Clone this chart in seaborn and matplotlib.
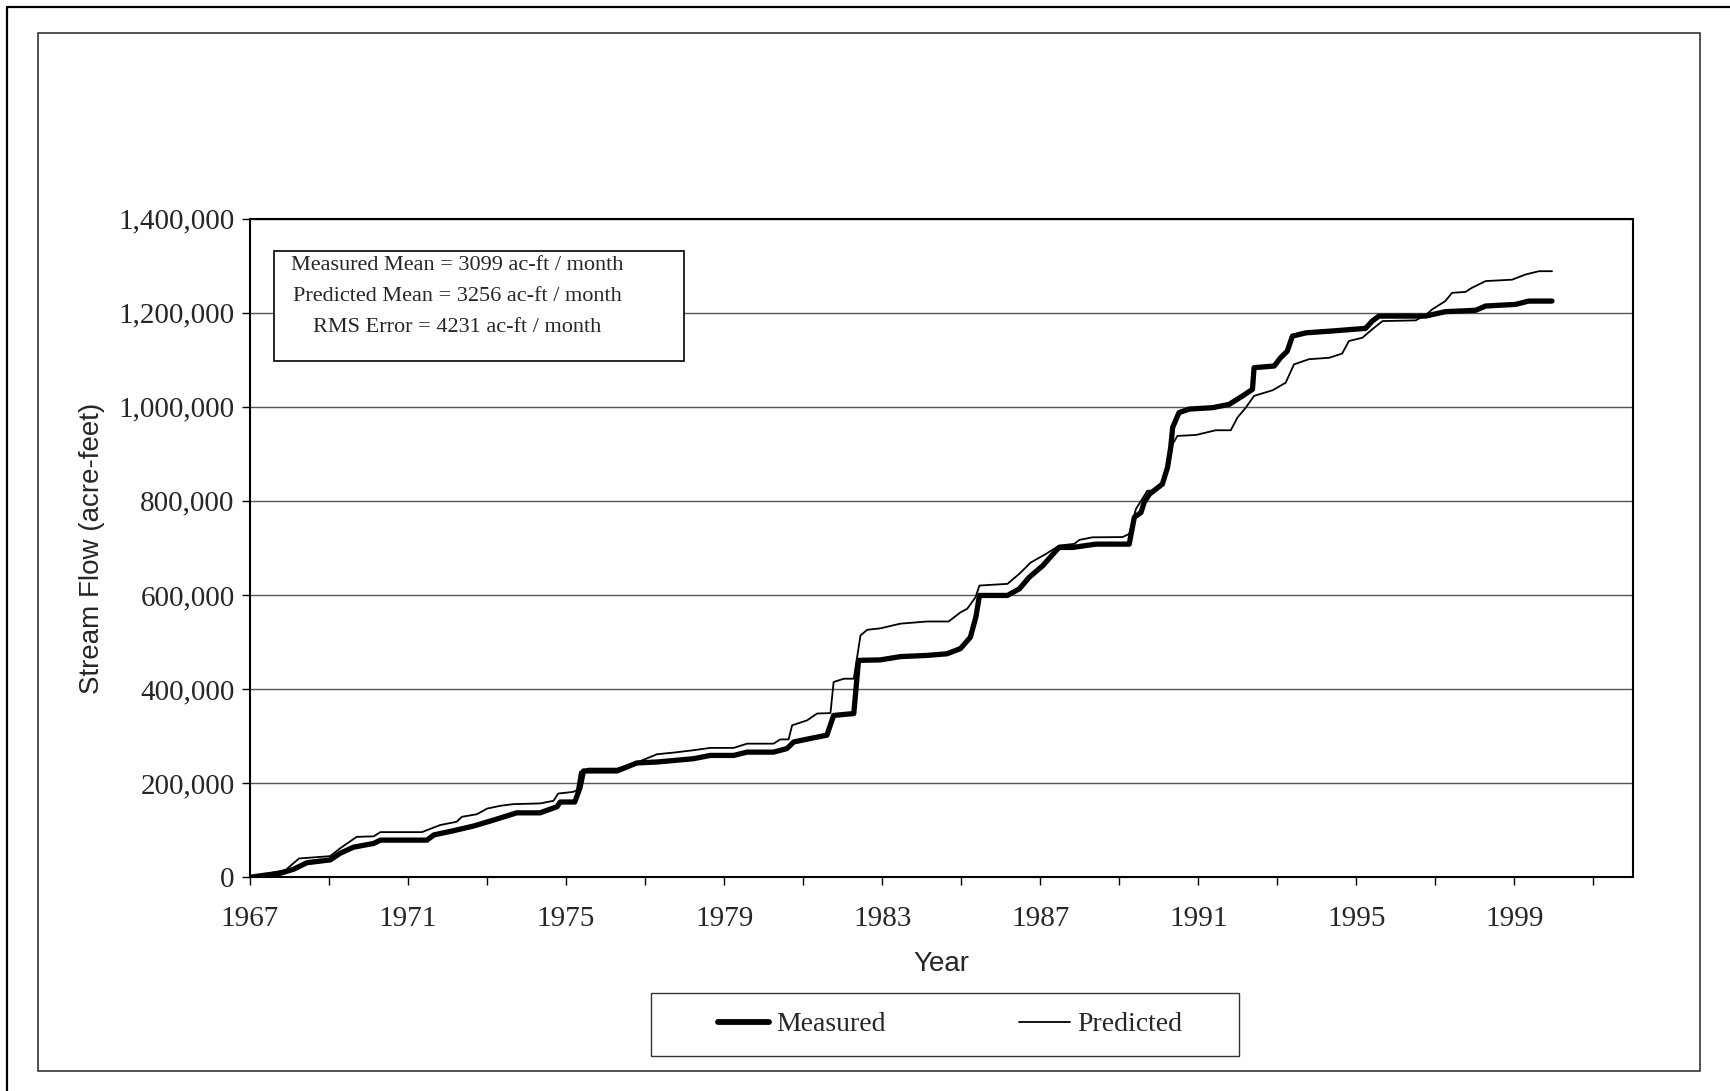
import matplotlib
matplotlib.use("Agg")
import matplotlib.pyplot as plt
import seaborn as sns
from matplotlib.lines import Line2D
from matplotlib.patches import Rectangle
from matplotlib.ticker import FuncFormatter

# cumulative stream flow (acre-feet)
measured_years = [1967.0, 1967.42, 1967.76, 1968.1, 1968.44, 1969.03, 1969.28, 1969.62, 1970.13, 1970.3,
                  1971.48, 1971.65, 1972.15, 1972.66, 1973.16, 1973.75, 1974.34, 1974.77, 1974.85, 1975.22,
                  1975.35, 1975.44, 1976.29, 1976.79, 1977.3, 1978.22, 1978.65, 1979.24, 1979.58, 1980.25,
                  1980.59, 1980.76, 1981.18, 1981.6, 1981.77, 1982.28, 1982.4, 1982.95, 1983.46, 1984.13,
                  1984.64, 1984.98, 1985.23, 1985.37, 1985.46, 1986.17, 1986.47, 1986.72, 1987.06, 1987.4,
                  1987.48, 1987.82, 1988.41, 1989.25, 1989.38, 1989.55, 1989.63, 1989.76, 1990.09, 1990.22,
                  1990.3, 1990.35, 1990.51, 1990.77, 1991.36, 1991.78, 1992.12, 1992.37, 1992.41, 1992.92,
                  1993.08, 1993.25, 1993.38, 1993.72, 1994.39, 1995.23, 1995.4, 1995.57, 1996.75, 1997.25,
                  1998.02, 1998.27, 1999.03, 1999.36, 1999.95]
measured_flow = [0, 5000, 8500, 17000, 31000, 37000, 51000, 64000, 72000, 79000,
                 79000, 90000, 99000, 109000, 121500, 137000, 137000, 150000, 160000, 160000,
                 190000, 226000, 226000, 243000, 245000, 252000, 259000, 259000, 266000, 266000,
                 273600, 287600, 295000, 302000, 344000, 348000, 461000, 462000, 469000, 471500,
                 475000, 486000, 510000, 553000, 599000, 599000, 613000, 637600, 662000, 694000,
                 701000, 701000, 708000, 708000, 765000, 775500, 797000, 814000, 835600, 871000,
                 913000, 956000, 987500, 995000, 998000, 1005000, 1023000, 1037000, 1083000, 1086500,
                 1104000, 1118000, 1150000, 1157000, 1161000, 1166500, 1182000, 1192600, 1192600, 1202000,
                 1205000, 1214000, 1217500, 1224500, 1224500]

predicted_years = [1967.0, 1967.9, 1968.24, 1969.03, 1969.28, 1969.7, 1970.13, 1970.3, 1971.35, 1971.81,
                   1972.23, 1972.36, 1972.74, 1973.0, 1973.34, 1973.67, 1974.34, 1974.68, 1974.8, 1975.18,
                   1975.27, 1975.35, 1975.56, 1976.29, 1976.79, 1977.3, 1977.72, 1978.22, 1978.65, 1979.24,
                   1979.58, 1980.25, 1980.42, 1980.63, 1980.72, 1981.1, 1981.35, 1981.69, 1981.77, 1982.03,
                   1982.28, 1982.45, 1982.62, 1982.95, 1983.46, 1984.13, 1984.68, 1984.98, 1985.15, 1985.36,
                   1985.46, 1986.17, 1986.47, 1986.76, 1987.14, 1987.48, 1987.86, 1987.99, 1988.32, 1989.08,
                   1989.25, 1989.42, 1989.71, 1989.93, 1990.13, 1990.26, 1990.35, 1990.47, 1990.94, 1991.44,
                   1991.82, 1991.99, 1992.2, 1992.41, 1992.88, 1993.21, 1993.42, 1993.8, 1994.31, 1994.64,
                   1994.81, 1995.15, 1995.4, 1995.66, 1996.5, 1996.75, 1996.92, 1997.25, 1997.42, 1997.76,
                   1997.92, 1998.27, 1998.94, 1999.28, 1999.62, 1999.95]
predicted_flow = [0, 15500, 40000, 45000, 61500, 86000, 87000, 96000, 96000, 111000,
                  118000, 128500, 134000, 146000, 152000, 155500, 157000, 162500, 178000, 181500,
                  185000, 224000, 231000, 231000, 244000, 261500, 265000, 270000, 275000, 275000,
                  284000, 284000, 293000, 293000, 323000, 333600, 348000, 349000, 415000, 422000,
                  422000, 514000, 526000, 529000, 539000, 543600, 543600, 563000, 570600, 595000,
                  620000, 623600, 645000, 669000, 687000, 705000, 708500, 717000, 722500, 723000,
                  729600, 782600, 821500, 821500, 842600, 885000, 920500, 938000, 940000, 950000,
                  950000, 977000, 998000, 1023000, 1035000, 1051000, 1090000, 1101000, 1104000, 1113000,
                  1139600, 1146600, 1164500, 1182000, 1183500, 1194700, 1207000, 1224500, 1242000, 1244000,
                  1252600, 1267000, 1270000, 1281000, 1288000, 1288000]

stats_lines = ["Measured Mean = 3099 ac-ft / month",
               "Predicted Mean = 3256 ac-ft / month",
               "RMS Error = 4231 ac-ft / month"]
series_labels = ["Measured", "Predicted"]

W, H = 1730, 1091
SERIF = "Liberation Serif"
SANS = "Liberation Sans"


def fx(px):
    return px / W


def fy(py):
    return 1 - py / H


sns.set_style("white")
plt.rcParams["font.family"] = [SERIF, "DejaVu Serif"]

fig = plt.figure(figsize=(W / 100, H / 100), dpi=100)
ax = fig.add_axes([fx(250), fy(877.3), fx(1633) - fx(250), fy(218.5) - fy(877.3)])

sns.lineplot(x=measured_years, y=measured_flow, ax=ax, color="black", linewidth=3.8,
             estimator=None, sort=False)
sns.lineplot(x=predicted_years, y=predicted_flow, ax=ax, color="black", linewidth=1.3,
             estimator=None, sort=False)

ax.set_xlim(1967, 2002)
ax.set_ylim(0, 1400000)
ax.set_yticks(range(0, 1400001, 200000))
ax.yaxis.set_major_formatter(FuncFormatter(lambda v, p: f"{int(v):,}"))
xt = list(range(1967, 2002, 2))
ax.set_xticks(xt)
ax.set_xticklabels([str(y) if (y - 1967) % 4 == 0 else "" for y in xt])

ax.grid(axis="y", color="#555555", linewidth=1.0)
ax.grid(axis="x", visible=False)
ax.set_axisbelow(True)
for s in ax.spines.values():
    s.set_color("black")
    s.set_linewidth(1.5)

ax.tick_params(axis="both", which="both", direction="out", length=6, width=1,
               color="black", labelsize=21, bottom=True, left=True)
ax.tick_params(axis="y", pad=5)
ax.tick_params(axis="x", pad=15)
for lab in ax.get_xticklabels() + ax.get_yticklabels():
    lab.set_fontfamily(SERIF)

ax.set_xlabel("Year", fontsize=20, fontfamily=SANS)
ax.xaxis.set_label_coords(0.5, -0.131)
ax.xaxis.label.set_va("center")
ax.set_ylabel("Stream Flow (acre-feet)", fontsize=20, fontfamily=SANS)
ax.yaxis.set_label_coords(-0.1145, 0.5)
ax.yaxis.label.set_va("center")

# stats box
fig.add_artist(Rectangle((fx(273.6), fy(360.5)), fx(683.7) - fx(273.6), fy(250.5) - fy(360.5),
                         transform=fig.transFigure, fill=True, facecolor="white",
                         edgecolor="black", linewidth=1.2, zorder=5))
for txt, py in zip(stats_lines, [265, 296.5, 328]):
    fig.text(fx(457), fy(py), txt, ha="center", va="center", fontsize=16,
             fontfamily=SERIF, zorder=6)

# legend below the plot
handles = [Line2D([], [], color="black", linewidth=4.2),
           Line2D([], [], color="black", linewidth=1.3)]
fig.legend(handles, series_labels, loc="center", bbox_to_anchor=(fx(950), fy(1024.5)),
           ncol=2, frameon=False, handlelength=1.84, handletextpad=0.25,
           columnspacing=4.8, prop={"family": SERIF, "size": 20})
fig.add_artist(Rectangle((fx(651), fy(1056)), fx(1239) - fx(651), fy(993) - fy(1056),
                         transform=fig.transFigure, fill=False, edgecolor="#333333", linewidth=1.0))

# chart area border and outer page frame
fig.add_artist(Rectangle((fx(37.7), fy(1071)), fx(1700) - fx(37.7), fy(33) - fy(1071),
                         transform=fig.transFigure, fill=False, edgecolor="#333333", linewidth=1.2))
fig.add_artist(Line2D([fx(6.7), 1], [fy(6.7), fy(6.7)], transform=fig.transFigure,
                      color="black", linewidth=1.6))
fig.add_artist(Line2D([fx(6.7), fx(6.7)], [0, fy(6.7)], transform=fig.transFigure,
                      color="black", linewidth=1.6))

fig.savefig("out.png", dpi=100)
